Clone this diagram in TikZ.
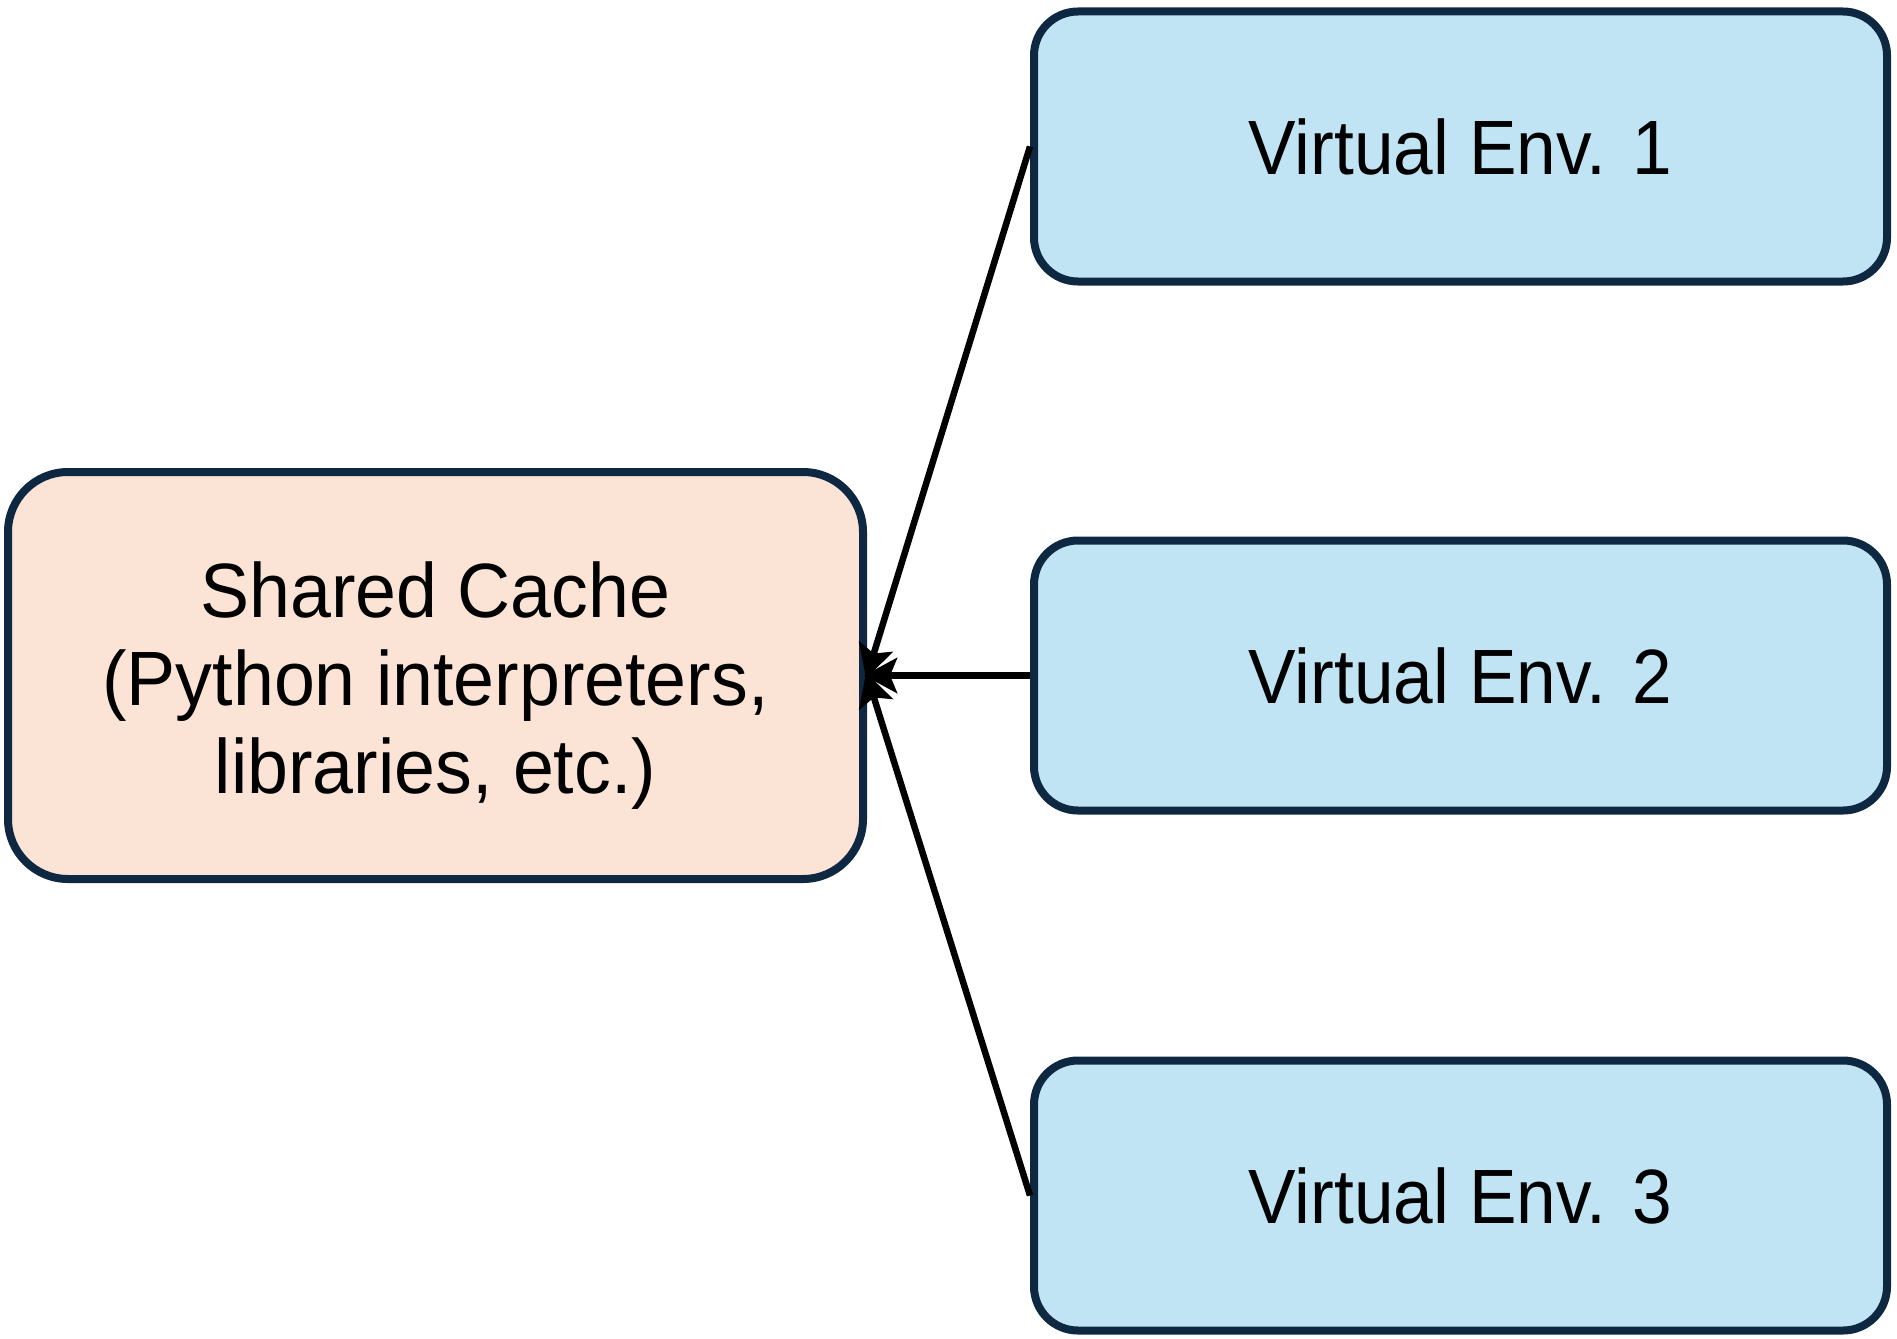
\documentclass[tikz,border=0pt]{standalone}
\usepackage{fontspec}
\setmainfont[FakeStretch=0.925]{Liberation Sans}
\newfontfamily\cachefont[FakeStretch=0.955]{Liberation Sans}
\usetikzlibrary{arrows.meta}
\definecolor{edgec}{HTML}{0E2841}
\definecolor{envfill}{HTML}{C1E4F5}
\definecolor{cachefill}{HTML}{FBE3D6}
\tikzset{
  box/.style={draw=edgec, line width=8pt, inner sep=0pt, align=center, text=black},
  envbox/.style={box, rounded corners=44pt, fill=envfill, minimum width=853pt, minimum height=270pt,
    font=\fontsize{77}{88}\selectfont},
  cachebox/.style={box, rounded corners=60pt, fill=cachefill, minimum width=855pt, minimum height=407pt,
    font=\cachefont\fontsize{77}{88}\selectfont},
  conn/.style={draw=black, line width=6.5pt, -{Stealth[length=33pt,width=35pt,inset=7pt]}, shorten >=-3pt}
}
\begin{document}
\begin{tikzpicture}[x=1pt,y=-1pt]
\useasboundingbox (0,0) rectangle (1897,1338);
\node[cachebox] (cache) at (435.5,675.5) {\parbox{800pt}{\centering\vspace*{20pt}Shared Cache\\(Python interpreters,\\libraries, etc.)}};
\node[envbox] (v1) at (1460.5,146.5) {Virtual Env. 1};
\node[envbox] (v2) at (1460.5,675.5) {Virtual Env. 2};
\node[envbox] (v3) at (1460.5,1195.5) {Virtual Env. 3};
\draw[conn] (v1.west) -- (cache.east);
\draw[conn] (v2.west) -- (cache.east);
\draw[conn] (v3.west) -- (cache.east);
\end{tikzpicture}
\end{document}
